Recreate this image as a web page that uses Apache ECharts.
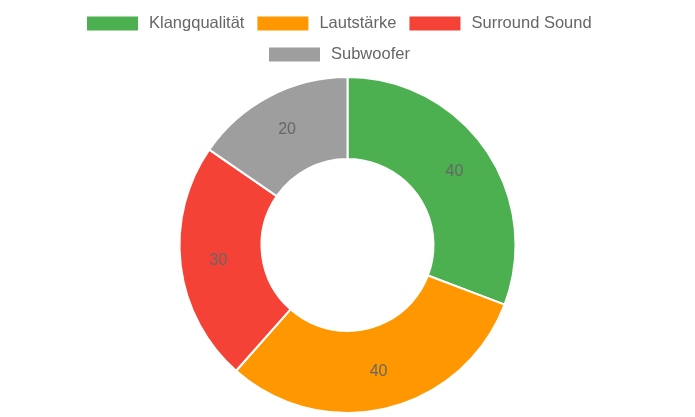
<!DOCTYPE html>
<html>
<head>
<meta charset="utf-8">
<script src="https://cdn.jsdelivr.net/npm/echarts@6/dist/echarts.min.js"></script>
<style>
html,body{margin:0;padding:0;background:#fff;}
#chart{width:695px;height:417px;}
</style>
</head>
<body>
<div id="chart"></div>
<script>
const categories = ['Klangqualität', 'Lautstärke', 'Surround Sound', 'Subwoofer'];
const values = [40, 40, 30, 20];
const colors = ['#4CAF50', '#FF9800', '#F44336', '#9E9E9E'];
const legendRow1 = categories.slice(0, 3);
const legendRow2 = categories.slice(3);

const legendBase = {
  orient: 'horizontal',
  padding: 0,
  itemWidth: 51,
  itemHeight: 14,
  itemGap: 13,
  icon: 'rect',
  itemStyle: {borderWidth: 0},
  textStyle: {fontSize: 16.5, color: '#666', padding: [0, 0, 0, 6]}
};

const chart = echarts.init(document.getElementById('chart'), null, {renderer: 'canvas'});
chart.setOption({
  animation: false,
  color: colors,
  textStyle: {fontFamily: '"Liberation Sans", Arial, Helvetica, sans-serif'},
  legend: [
    Object.assign({}, legendBase, {top: 15, left: 87, data: legendRow1}),
    Object.assign({}, legendBase, {top: 46, left: 269, data: legendRow2})
  ],
  series: [{
    type: 'pie',
    center: [347.5, 245],
    radius: [86, 168],
    startAngle: 90,
    clockwise: true,
    avoidLabelOverlap: false,
    itemStyle: {borderColor: '#fff', borderWidth: 2},
    label: {
      show: true,
      position: 'inside',
      formatter: '{c}',
      fontSize: 16,
      color: '#666',
      fontFamily: '"Liberation Sans", Arial, sans-serif'
    },
    labelLine: {show: false},
    emphasis: {disabled: true},
    data: categories.map((name, i) => ({name: name, value: values[i]}))
  }]
});
</script>
</body>
</html>
